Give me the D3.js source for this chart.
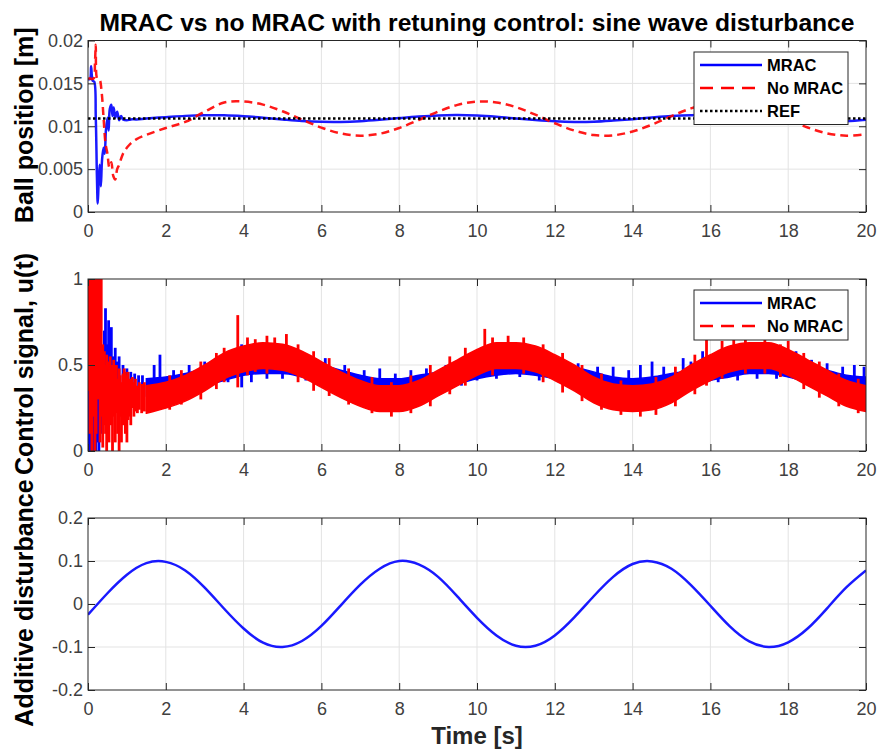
<!DOCTYPE html>
<html>
<head>
<meta charset="utf-8">
<script src="https://cdn.jsdelivr.net/npm/d3@7"></script>
<style>
  html, body { margin: 0; padding: 0; background: #fff; }
  svg { display: block; font-family: "Liberation Sans", Arial, sans-serif; }
</style>
</head>
<body>
<div id="chart"></div>
<script>
// ── Data: ball position (top panel) ─────────────────────────────────────
const refPos = 0.0109;

const mracPosT = [0, 0.05, 0.08, 0.1, 0.12, 0.16, 0.2, 0.23, 0.25, 0.27, 0.3, 0.33, 0.36, 0.4, 0.43,
  0.46, 0.5, 0.53, 0.56, 0.6, 0.63, 0.66, 0.7, 0.75, 0.8, 0.85, 0.9, 1.0, 1.1, 1.25, 1.5,
  2, 2.5, 3, 3.5, 4, 4.5, 5, 5.5, 6, 6.5, 7, 7.5, 8, 8.5, 9, 9.5, 10, 10.5, 11, 11.5, 12,
  12.5, 13, 13.5, 14, 14.5, 15, 15.5, 16, 16.5, 17, 17.5, 18, 18.5, 19, 19.5, 20];
const mracPos = [0.0155, 0.0155, 0.0170, 0.0158, 0.0153, 0.0152, 0.0110, 0.0040, 0.0010, 0.0030,
  0.0055, 0.0030, 0.0060, 0.0075, 0.0068, 0.0095, 0.0110, 0.0095, 0.0120, 0.0125, 0.0112, 0.0122,
  0.0110, 0.0117, 0.0107, 0.0112, 0.0108, 0.0107, 0.0108, 0.0108, 0.0109,
  0.01106, 0.01121, 0.01129, 0.01128, 0.01117, 0.01100, 0.01080, 0.01062, 0.01052, 0.01051,
  0.01059, 0.01075, 0.01095, 0.01113, 0.01126, 0.01130, 0.01124, 0.01110, 0.01091, 0.01072,
  0.01057, 0.01050, 0.01053, 0.01066, 0.01083, 0.01103, 0.01120, 0.01129, 0.01129, 0.01119,
  0.01102, 0.01082, 0.01064, 0.01052, 0.01050, 0.01058, 0.01076];

const noMracPosT = [0, 0.05, 0.1, 0.15, 0.18, 0.2, 0.22, 0.25, 0.3, 0.35, 0.4, 0.45, 0.5, 0.55,
  0.6, 0.65, 0.7, 0.75, 0.8, 0.85, 0.9, 0.95, 1.0, 1.1, 1.25, 1.5,
  2, 2.5, 3, 3.5, 4, 4.5, 5, 5.5, 6, 6.5, 7, 7.5, 8, 8.5, 9, 9.5, 10, 10.5, 11, 11.5, 12,
  12.5, 13, 13.5, 14, 14.5, 15, 15.5, 16, 16.5, 17, 17.5, 18, 18.5, 19, 19.5, 20];
const noMracPos = [0.0155, 0.0156, 0.0155, 0.0156, 0.0175, 0.0195, 0.0158, 0.0155, 0.0154,
  0.0140, 0.0110, 0.0080, 0.0068, 0.0052, 0.0058, 0.0042, 0.0038, 0.0050, 0.0055, 0.0062,
  0.0068, 0.0072, 0.0075, 0.0080, 0.0085, 0.0090,
  0.0098, 0.0105, 0.0117, 0.01276, 0.01288, 0.01252, 0.01175, 0.01078, 0.00984, 0.00916,
  0.00890, 0.00913, 0.00980, 0.01073, 0.01171, 0.01249, 0.01288, 0.01278, 0.01223, 0.01135,
  0.01035, 0.00950, 0.00898, 0.00894, 0.00939, 0.01019, 0.01118, 0.01208, 0.01264, 0.01280,
  0.01244, 0.01178, 0.01078, 0.00985, 0.00917, 0.00890, 0.00905];

// ── Data: control signal (middle panel) ─────────────────────────────────
// noisy signal drawn as a band (lower / upper envelope) plus single spikes
const bandT = [1.5, 2, 2.5, 3, 3.5, 4, 4.5, 5, 5.5, 6, 6.5, 7, 7.5, 8, 8.5, 9, 9.5, 10, 10.5,
  11, 11.5, 12, 12.5, 13, 13.5, 14, 14.5, 15, 15.5, 16, 16.5, 17, 17.5, 18, 18.5, 19, 19.5, 20];

const mracULow = [0.32, 0.33, 0.35, 0.38, 0.41, 0.44, 0.45, 0.45, 0.43, 0.40, 0.37, 0.34,
  0.32, 0.32, 0.34, 0.36, 0.39, 0.42, 0.44, 0.45, 0.44, 0.42, 0.39, 0.36, 0.33, 0.32, 0.33,
  0.35, 0.37, 0.41, 0.43, 0.45, 0.45, 0.43, 0.40, 0.37, 0.34, 0.32];
const mracUHigh = [0.42, 0.43, 0.45, 0.48, 0.51, 0.53, 0.55, 0.55, 0.53, 0.50, 0.47, 0.44,
  0.42, 0.42, 0.44, 0.46, 0.49, 0.52, 0.54, 0.55, 0.54, 0.52, 0.49, 0.46, 0.43, 0.42, 0.43,
  0.45, 0.47, 0.51, 0.53, 0.55, 0.55, 0.53, 0.50, 0.47, 0.44, 0.43];

const noMracULow = [0.22, 0.25, 0.29, 0.35, 0.42, 0.46, 0.48, 0.47, 0.43, 0.37, 0.31, 0.26,
  0.23, 0.23, 0.26, 0.32, 0.38, 0.44, 0.48, 0.48, 0.46, 0.41, 0.35, 0.28, 0.24, 0.23, 0.24,
  0.28, 0.35, 0.41, 0.46, 0.48, 0.48, 0.44, 0.38, 0.32, 0.26, 0.23];
const noMracUHigh = [0.38, 0.40, 0.44, 0.50, 0.57, 0.61, 0.63, 0.62, 0.58, 0.52, 0.46, 0.41,
  0.38, 0.38, 0.41, 0.47, 0.53, 0.59, 0.63, 0.63, 0.61, 0.56, 0.50, 0.43, 0.39, 0.38, 0.39,
  0.43, 0.50, 0.56, 0.61, 0.63, 0.63, 0.59, 0.53, 0.47, 0.41, 0.38];

// spikes: [time, low, high]
const mracSpikes = [[0.0, 0.25, 0.55], [0.02, 0, 0.9], [0.05, 0.2, 0.75], [0.07, 0, 0.6],
  [0.09, 0.3, 0.85], [0.12, 0, 0.5], [0.16, 0.1, 0.65], [0.2, 0, 0.55], [0.24, 0.05, 0.5],
  [0.28, 0, 0.45], [0.34, 0.1, 0.55], [0.38, 0.25, 0.6], [0.42, 0.3, 0.7], [0.45, 0.3, 0.83],
  [0.5, 0.3, 0.62], [0.53, 0.35, 0.76], [0.56, 0.35, 0.65], [0.6, 0.35, 0.72], [0.65, 0.3, 0.55],
  [0.7, 0.3, 0.6], [0.75, 0.33, 0.52], [0.8, 0.3, 0.55], [0.9, 0.3, 0.5], [1.0, 0.3, 0.48],
  [1.1, 0.32, 0.46], [1.2, 0.33, 0.45], [1.3, 0.33, 0.44], [1.4, 0.33, 0.44], [1.7, 0.35, 0.5],
  [1.85, 0.36, 0.56], [2.2, 0.33, 0.47], [2.6, 0.35, 0.5], [3.0, 0.37, 0.52], [3.6, 0.4, 0.55],
  [3.95, 0.37, 0.62], [4.2, 0.4, 0.56], [4.6, 0.42, 0.57], [5.0, 0.42, 0.58], [5.2, 0.45, 0.6],
  [5.6, 0.41, 0.56], [6.1, 0.4, 0.54], [6.6, 0.36, 0.5], [7.1, 0.33, 0.47], [7.5, 0.33, 0.48],
  [7.9, 0.32, 0.45], [8.3, 0.33, 0.47], [8.7, 0.34, 0.48], [9.2, 0.36, 0.5], [9.6, 0.38, 0.52],
  [10.0, 0.41, 0.55], [10.5, 0.42, 0.58], [11.1, 0.43, 0.56], [11.6, 0.41, 0.56],
  [12.1, 0.4, 0.54], [12.6, 0.37, 0.51], [13.1, 0.35, 0.49], [13.5, 0.33, 0.49],
  [13.9, 0.32, 0.47], [14.2, 0.32, 0.5], [14.5, 0.33, 0.52], [14.8, 0.34, 0.49],
  [15.3, 0.35, 0.54], [15.5, 0.37, 0.52], [15.8, 0.44, 0.58], [16.2, 0.4, 0.56],
  [16.7, 0.41, 0.56], [17.2, 0.42, 0.58], [17.7, 0.42, 0.56], [18.2, 0.43, 0.58],
  [18.6, 0.39, 0.53], [19.0, 0.37, 0.51], [19.4, 0.34, 0.49], [19.7, 0.33, 0.5],
  [19.95, 0.33, 0.49]];

const noMracSpikes = [[0.02, 0.35, 1], [0.05, 0.1, 1], [0.08, 0.5, 1], [0.1, 0, 1],
  [0.13, 0.2, 1], [0.16, 0.4, 1], [0.18, 0, 1], [0.21, 0.1, 1], [0.24, 0.45, 1], [0.26, 0.3, 1],
  [0.29, 0.6, 1], [0.31, 0.05, 1], [0.34, 0.2, 1], [0.38, 0.02, 0.62], [0.42, 0.15, 0.58],
  [0.45, 0.1, 0.5], [0.48, 0, 0.56], [0.51, 0.2, 0.5], [0.54, 0.05, 0.52], [0.57, 0.22, 0.55],
  [0.6, 0.15, 0.48], [0.63, 0, 0.5], [0.66, 0.2, 0.53], [0.7, 0.05, 0.45], [0.73, 0.22, 0.5],
  [0.76, 0.1, 0.42], [0.8, 0, 0.48], [0.83, 0.2, 0.44], [0.86, 0.05, 0.4], [0.9, 0.15, 0.45],
  [0.93, 0.22, 0.48], [0.96, 0.1, 0.46], [1.0, 0.05, 0.44], [1.03, 0.18, 0.46],
  [1.07, 0.2, 0.42], [1.1, 0.15, 0.4], [1.14, 0.25, 0.43], [1.18, 0.2, 0.4], [1.22, 0.23, 0.42],
  [1.27, 0.22, 0.38], [1.32, 0.24, 0.4], [1.38, 0.22, 0.39], [1.45, 0.23, 0.4],
  [2.1, 0.24, 0.44], [2.4, 0.27, 0.47], [2.9, 0.3, 0.52], [3.3, 0.36, 0.57], [3.5, 0.4, 0.6],
  [3.85, 0.37, 0.79], [4.1, 0.44, 0.66], [4.3, 0.46, 0.65], [4.6, 0.45, 0.67], [4.8, 0.5, 0.66],
  [5.1, 0.48, 0.68], [5.4, 0.4, 0.62], [5.8, 0.35, 0.58], [6.2, 0.32, 0.54], [6.7, 0.27, 0.48],
  [7.3, 0.22, 0.43], [7.8, 0.2, 0.4], [8.3, 0.22, 0.44], [8.8, 0.26, 0.5], [9.3, 0.33, 0.55],
  [9.7, 0.38, 0.6], [10.2, 0.5, 0.71], [10.4, 0.44, 0.66], [10.8, 0.5, 0.67], [11.2, 0.45, 0.66],
  [11.7, 0.4, 0.62], [12.2, 0.34, 0.57], [12.7, 0.29, 0.5], [13.2, 0.24, 0.45],
  [13.7, 0.21, 0.41], [14.2, 0.2, 0.36], [14.6, 0.21, 0.43], [15.1, 0.26, 0.49],
  [15.6, 0.33, 0.56], [15.9, 0.38, 0.65], [16.3, 0.42, 0.64], [16.6, 0.5, 0.66],
  [16.9, 0.45, 0.66], [17.4, 0.45, 0.65], [17.8, 0.43, 0.62], [18.0, 0.5, 0.64],
  [18.4, 0.36, 0.57], [18.8, 0.31, 0.52], [19.3, 0.26, 0.45], [19.8, 0.22, 0.42]];

// ── Data: additive disturbance (bottom panel) ───────────────────────────
const distT = [0, 0.5, 1, 1.5, 2, 2.5, 3, 3.5, 4, 4.5, 5, 5.5, 6, 6.5, 7, 7.5, 8, 8.5, 9, 9.5,
  10, 10.5, 11, 11.5, 12, 12.5, 13, 13.5, 14, 14.5, 15, 15.5, 16, 16.5, 17, 17.5, 18, 18.5, 19,
  19.5, 20];
const disturbance = [-0.025, 0.025, 0.068, 0.095, 0.098, 0.078, 0.038, -0.011, -0.057, -0.090,
  -0.100, -0.086, -0.051, -0.003, 0.045, 0.082, 0.100, 0.092, 0.063, 0.017, -0.032, -0.073,
  -0.097, -0.097, -0.073, -0.031, 0.018, 0.063, 0.093, 0.099, 0.082, 0.044, -0.004, -0.052,
  -0.087, -0.100, -0.089, -0.057, -0.010, 0.039, 0.078];

// ── Tick labels ─────────────────────────────────────────────────────────
const xTicks = [0, 2, 4, 6, 8, 10, 12, 14, 16, 18, 20];
const posTicks = [0, 0.005, 0.01, 0.015, 0.02];
const uTicks = [0, 0.5, 1];
const distTicks = [-0.2, -0.1, 0, 0.1, 0.2];

// ── Layout ──────────────────────────────────────────────────────────────
const W = 877, H = 751;
const plotLeft = 88, plotRight = 866;
const panels = [
  { top: 40.5, height: 171.5, domain: [0, 0.02], ticks: posTicks, label: "Ball position [m]" },
  { top: 279, height: 172, domain: [0, 1], ticks: uTicks, label: "Control signal, u(t)" },
  { top: 518, height: 172, domain: [-0.2, 0.2], ticks: distTicks, label: "Additive disturbance" },
];
const AX = "#262626", GRID = "#e3e3e3", TICKTXT = "#404040";
const BLUE = "#0000ff", RED = "#ff0000";
const FONT = '"Liberation Sans", Arial, sans-serif';

const svg = d3.select("#chart").append("svg").attr("width", W).attr("height", H);

const x = d3.scaleLinear().domain([0, 20]).range([plotLeft, plotRight]);

function drawPanel(p, i) {
  const y = d3.scaleLinear().domain(p.domain).range([p.top + p.height, p.top]);
  const g = svg.append("g");

  // grid
  g.append("g").selectAll("line").data(xTicks.slice(1, -1)).join("line")
    .attr("x1", (d) => x(d)).attr("x2", (d) => x(d))
    .attr("y1", p.top).attr("y2", p.top + p.height)
    .attr("stroke", GRID).attr("stroke-width", 1);
  g.append("g").selectAll("line").data(p.ticks.slice(1, -1)).join("line")
    .attr("x1", plotLeft).attr("x2", plotRight)
    .attr("y1", (d) => y(d)).attr("y2", (d) => y(d))
    .attr("stroke", GRID).attr("stroke-width", 1);

  // clip
  svg.append("clipPath").attr("id", "clip" + i).append("rect")
    .attr("x", plotLeft).attr("y", p.top)
    .attr("width", plotRight - plotLeft).attr("height", p.height);
  const plot = svg.append("g").attr("clip-path", `url(#clip${i})`);

  // axes (box with inward ticks)
  const axes = svg.append("g");
  axes.append("rect").attr("x", plotLeft).attr("y", p.top)
    .attr("width", plotRight - plotLeft).attr("height", p.height)
    .attr("fill", "none").attr("stroke", AX).attr("stroke-width", 1);

  axes.append("g").attr("transform", `translate(0,${p.top + p.height})`)
    .call(d3.axisBottom(x).tickValues(xTicks).tickSizeInner(-7).tickSizeOuter(0).tickPadding(12))
    .call((a) => a.select(".domain").remove())
    .call((a) => a.selectAll("line").attr("stroke", AX))
    .call((a) => a.selectAll("text").attr("fill", TICKTXT)
      .style("font-size", "18px").style("font-family", FONT));
  axes.append("g").attr("transform", `translate(0,${p.top})`)
    .call(d3.axisTop(x).tickValues(xTicks).tickSizeInner(-7).tickSizeOuter(0).tickFormat(""))
    .call((a) => a.select(".domain").remove())
    .call((a) => a.selectAll("line").attr("stroke", AX));
  axes.append("g").attr("transform", `translate(${plotLeft},0)`)
    .call(d3.axisLeft(y).tickValues(p.ticks).tickSizeInner(-7).tickSizeOuter(0).tickPadding(5)
      .tickFormat((d) => String(+d.toFixed(3))))
    .call((a) => a.select(".domain").remove())
    .call((a) => a.selectAll("line").attr("stroke", AX))
    .call((a) => a.selectAll("text").attr("fill", TICKTXT)
      .style("font-size", "18px").style("font-family", FONT));
  axes.append("g").attr("transform", `translate(${plotRight},0)`)
    .call(d3.axisRight(y).tickValues(p.ticks).tickSizeInner(-7).tickSizeOuter(0).tickFormat(""))
    .call((a) => a.select(".domain").remove())
    .call((a) => a.selectAll("line").attr("stroke", AX));

  // y label
  svg.append("text")
    .attr("transform", `translate(33,${p.top + p.height / 2 - 1}) rotate(-90)`)
    .attr("text-anchor", "middle")
    .style("font-size", "25px").style("font-weight", "bold").attr("fill", "#000")
    .text(p.label);

  return { plot, y };
}

const [pTop, pMid, pBot] = panels.map(drawPanel);

// ── Top panel lines ─────────────────────────────────────────────────────
const lineTop = (ts) => d3.line().x((d, i) => x(ts[i])).y((d) => pTop.y(d))
  .curve(d3.curveCatmullRom.alpha(0.5));

pTop.plot.append("path").datum(mracPos).attr("d", lineTop(mracPosT))
  .attr("fill", "none").attr("stroke", BLUE).attr("stroke-width", 2.5).attr("stroke-opacity", 0.9);
pTop.plot.append("path").datum(noMracPos).attr("d", lineTop(noMracPosT))
  .attr("fill", "none").attr("stroke", RED).attr("stroke-width", 2.5)
  .attr("stroke-dasharray", "8,5").attr("stroke-opacity", 0.9);
pTop.plot.append("line")
  .attr("x1", x(0)).attr("x2", x(20)).attr("y1", pTop.y(refPos)).attr("y2", pTop.y(refPos))
  .attr("stroke", "#000").attr("stroke-width", 2.5).attr("stroke-dasharray", "2.5,2.5");

// ── Middle panel band + spikes ──────────────────────────────────────────
function band(low, high, color) {
  pMid.plot.append("path").datum(bandT)
    .attr("d", d3.area().x((d) => x(d))
      .y0((d, i) => pMid.y(low[i])).y1((d, i) => pMid.y(high[i])).curve(d3.curveMonotoneX))
    .attr("fill", color).attr("stroke", color).attr("stroke-width", 1.5);
}
function spikes(list, color) {
  pMid.plot.append("g").selectAll("line").data(list).join("line")
    .attr("x1", (d) => x(d[0])).attr("x2", (d) => x(d[0]))
    .attr("y1", (d) => pMid.y(d[1])).attr("y2", (d) => pMid.y(d[2]))
    .attr("stroke", color).attr("stroke-width", 2.8);
}
band(mracULow, mracUHigh, BLUE);
spikes(mracSpikes, BLUE);
band(noMracULow, noMracUHigh, RED);
spikes(noMracSpikes, RED);

// ── Bottom panel ────────────────────────────────────────────────────────
pBot.plot.append("path").datum(disturbance)
  .attr("d", d3.line().x((d, i) => x(distT[i])).y((d) => pBot.y(d)).curve(d3.curveNatural))
  .attr("fill", "none").attr("stroke", BLUE).attr("stroke-width", 2.5).attr("stroke-opacity", 0.9);

// ── Legends ─────────────────────────────────────────────────────────────
function legend(x0, y0, w, rows) {
  const h = rows.length * 22.5 + 5;
  const lg = svg.append("g");
  lg.append("rect").attr("x", x0).attr("y", y0).attr("width", w).attr("height", h)
    .attr("fill", "#fff").attr("stroke", AX).attr("stroke-width", 1);
  rows.forEach((r, i) => {
    const cy = y0 + 13 + i * 23;
    lg.append("line").attr("x1", x0 + 6).attr("x2", x0 + 68).attr("y1", cy).attr("y2", cy)
      .attr("stroke", r.color).attr("stroke-width", 2.5).attr("stroke-dasharray", r.dash);
    lg.append("text").attr("x", x0 + 73).attr("y", cy + 6)
      .style("font-size", "16.5px").style("font-weight", "bold").text(r.name);
  });
}
legend(694, 52, 154, [
  { name: "MRAC", color: BLUE, dash: null },
  { name: "No MRAC", color: RED, dash: "13,8" },
  { name: "REF", color: "#000", dash: "2.5,2.5" },
]);
legend(694, 290, 154, [
  { name: "MRAC", color: BLUE, dash: null },
  { name: "No MRAC", color: RED, dash: "13,8" },
]);

// ── Title and x label ───────────────────────────────────────────────────
svg.append("text").attr("x", (plotLeft + plotRight) / 2).attr("y", 31)
  .attr("text-anchor", "middle").style("font-size", "23px").style("font-weight", "bold")
  .attr("textLength", 755).attr("lengthAdjust", "spacingAndGlyphs")
  .text("MRAC vs no MRAC with retuning control: sine wave disturbance");
svg.append("text").attr("x", 477).attr("y", 744)
  .attr("text-anchor", "middle").style("font-size", "24px").style("font-weight", "bold")
  .attr("fill", "#262626")
  .text("Time [s]");
</script>
</body>
</html>
